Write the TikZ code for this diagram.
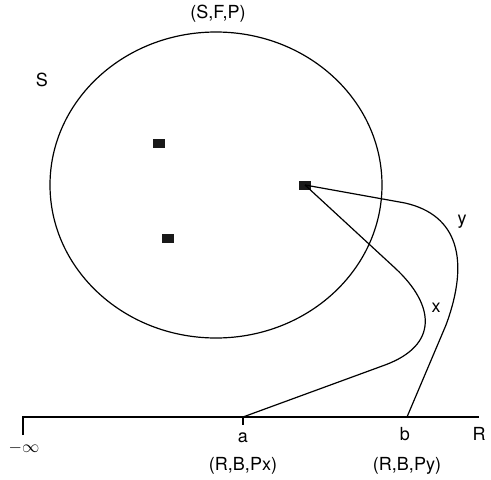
\documentclass[tikz,border=0pt]{standalone}
\usepackage{fontspec}
\setmainfont{TeX Gyre Heros}
\usepackage{tikz}
\usetikzlibrary{calc}

\begin{document}
\begin{tikzpicture}[x=1pt, y=-1pt, line width=1.2pt,
    pt/.style={fill=black!90, minimum width=12pt, minimum height=9pt, inner sep=0pt},
    lbl/.style={font=\fontsize{18}{20}\selectfont, inner sep=0pt}]
  \useasboundingbox (0, 0) rectangle (491, 480);
  % sample space
  \draw (216, 185) ellipse [x radius=166, y radius=153];
  \node[lbl] (sfp) at (218, 14) {(S,F,P)};
  \node[lbl] (s) at (42, 80) {S};
  \node[pt] (p1) at (159, 143) {};
  \node[pt] (p2) at (168, 238) {};
  \node[pt] (p3) at (305, 185) {};

  % real line
  \coordinate (minf) at (23, 417);
  \coordinate (rend) at (479, 417);
  \coordinate (ca) at (243, 417);
  \coordinate (cb) at (407, 417);
  \draw (minf) ++(0, 18) -- (minf) -- (rend);
  \draw (ca) -- ++(0, 8);
  \node[lbl] (la) at (243, 438) {a};
  \node[lbl] (lb) at (405, 434) {b};
  \node[lbl] (lr) at (479, 434) {R};
  \node[lbl, font=\fontsize{17}{19}\selectfont] (linf) at (24, 448) {$-\infty$};
  \node[lbl] (pxa) at (243, 466) {(R,B,Px)};
  \node[lbl] (pyb) at (407, 466) {(R,B,Py)};

  % random variables
  \draw (p3.center) -- (395, 268) .. controls (435, 305) and (439, 345) .. (385, 365) -- (ca);
  \draw (p3.center) -- (405, 203) .. controls (458, 215) and (470, 260) .. (446, 325) -- (cb);
  \node[lbl] (lx) at (436, 308) {x};
  \node[lbl] (ly) at (462, 222) {y};
\end{tikzpicture}
\end{document}
